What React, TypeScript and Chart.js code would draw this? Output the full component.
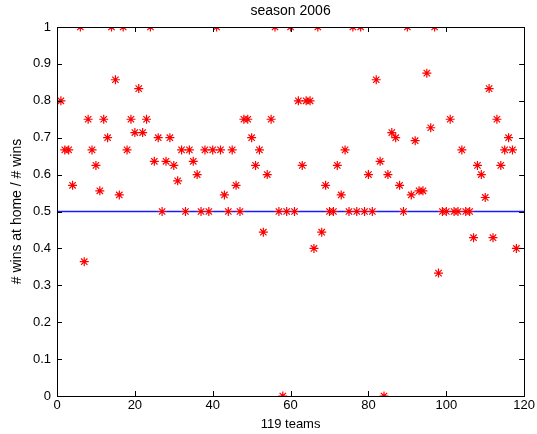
import React, { useEffect, useRef } from "react";
import { Chart, registerables } from "chart.js";

Chart.register(...registerables);

const teamIndex: number[] = Array.from({ length: 118 }, (_, i) => i + 1);
const winRatio: (number | null)[] = [
  0.8, 0.667, 0.667, 0.571, null, 1, 0.364, 0.75, 0.667, 0.625,
  0.556, 0.75, 0.7, 1, 0.857, 0.545, 1, 0.667, 0.75, 0.714,
  0.833, 0.714, 0.75, 1, 0.636, 0.7, 0.5, 0.636, 0.7, 0.625,
  0.583, 0.667, 0.5, 0.667, 0.636, 0.6, 0.5, 0.667, 0.5, 0.667,
  1, 0.667, 0.545, 0.5, 0.667, 0.571, 0.5, 0.75, 0.75, 0.7,
  0.625, 0.667, 0.444, 0.6, 0.75, 1, 0.5, 0, 0.5, 1,
  0.5, 0.8, 0.625, 0.8, 0.8, 0.4, 1, 0.444, 0.571, 0.5,
  0.5, 0.625, 0.545, 0.667, 0.5, 1, 0.5, 1, 0.5, 0.6,
  0.5, 0.857, 0.636, 0, 0.6, 0.714, 0.7, 0.571, 0.5, 1,
  0.545, 0.692, 0.556, 0.556, 0.875, 0.727, 1, 0.333, 0.5, 0.5,
  0.75, 0.5, 0.5, 0.667, 0.5, 0.5, 0.429, 0.625, 0.6, 0.538,
  0.833, 0.429, 0.75, 0.625, 0.667, 0.7, 0.667, 0.4,
];
const refLineX: number[] = [0, 120];
const refLineY: number[] = [0.5, 0.5];

const FONT = "'Liberation Sans', Arial, Helvetica, sans-serif";

const boxTicks = {
  id: "boxTicks",
  afterDraw(chart: any) {
    const { ctx, chartArea: a, scales } = chart;
    const x = scales.x;
    const y = scales.y;
    const len = 5;
    ctx.save();
    ctx.strokeStyle = "#000";
    ctx.lineWidth = 1;
    ctx.beginPath();
    for (const t of x.ticks) {
      const px = Math.round(x.getPixelForValue(t.value)) + 0.5;
      ctx.moveTo(px, a.bottom);
      ctx.lineTo(px, a.bottom - len);
      ctx.moveTo(px, a.top);
      ctx.lineTo(px, a.top + len);
    }
    for (const t of y.ticks) {
      const py = Math.round(y.getPixelForValue(t.value)) + 0.5;
      ctx.moveTo(a.left, py);
      ctx.lineTo(a.left + len, py);
      ctx.moveTo(a.right, py);
      ctx.lineTo(a.right - len, py);
    }
    ctx.stroke();
    ctx.strokeRect(Math.round(a.left) + 0.5, Math.round(a.top) + 0.5, Math.round(a.right - a.left), Math.round(a.bottom - a.top));
    ctx.restore();
  },
};

export default function App() {
  const ref = useRef<HTMLCanvasElement | null>(null);
  useEffect(() => {
    document.body.style.margin = "0";
    const canvas = ref.current;
    if (!canvas) return;
    const points = teamIndex
      .map((t, i) => ({ x: t, y: winRatio[i] }))
      .filter((p) => p.y !== null);
    const chart = new Chart(canvas, {
      type: "scatter",
      data: {
        datasets: [
          {
            type: "line",
            data: refLineX.map((x, i) => ({ x, y: refLineY[i] })) as any,
            borderColor: "#1a1aff",
            backgroundColor: "#1a1aff",
            borderWidth: 1.3,
            pointRadius: 0,
            fill: false,
            order: 2,
          } as any,
          {
            data: points as any,
            pointStyle: "star",
            pointRadius: 4.5,
            borderColor: "#ff0000",
            backgroundColor: "#ff0000",
            pointBorderWidth: 1.2,
            showLine: false,
            order: 1,
          },
        ],
      },
      options: {
        animation: false,
        responsive: false,
        devicePixelRatio: 1,
        layout: { padding: { left: 0, right: 12, top: 0, bottom: 0 } },
        plugins: {
          legend: { display: false },
          tooltip: { enabled: false },
          title: {
            display: true,
            text: "season 2006",
            fullSize: false,
            color: "#000",
            font: { family: FONT, size: 14, weight: "normal" },
            padding: { top: 3, bottom: 7.2 },
          },
        },
        scales: {
          x: {
            type: "linear",
            min: 0,
            max: 120,
            ticks: {
              stepSize: 20,
              color: "#000",
              font: { family: FONT, size: 13 },
              padding: 2,
              maxRotation: 0,
            },
            grid: { display: false, drawTicks: false },
            border: { display: false },
            title: {
              display: true,
              text: "119 teams",
              color: "#000",
              font: { family: FONT, size: 13 },
              padding: { top: 0, bottom: 2 },
            },
            afterFit(scale: any) {
              scale.height = 38;
            },
          },
          y: {
            type: "linear",
            min: 0,
            max: 1,
            ticks: {
              stepSize: 0.1,
              color: "#000",
              font: { family: FONT, size: 13 },
              padding: 6,
              callback: (v: any) => String(Math.round(Number(v) * 10) / 10),
            },
            grid: { display: false, drawTicks: false },
            border: { display: false },
            title: {
              display: true,
              text: "# wins at home / # wins",
              color: "#000",
              font: { family: FONT, size: 14 },
              padding: { top: 9, bottom: 0 },
            },
            afterFit(scale: any) {
              scale.width = 57;
            },
          },
        },
      },
      plugins: [boxTicks],
    });
    return () => chart.destroy();
  }, []);
  return <canvas ref={ref} width={537} height={434} style={{ display: "block" }} />;
}
